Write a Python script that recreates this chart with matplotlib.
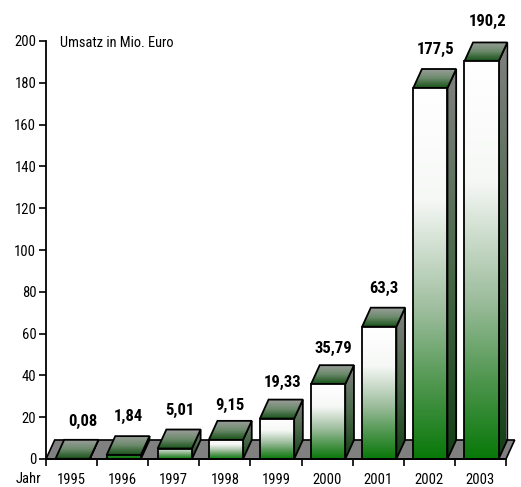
import numpy as np
import matplotlib
matplotlib.use("Agg")
import matplotlib.pyplot as plt
from matplotlib.colors import LinearSegmentedColormap
from matplotlib.patches import Polygon

years = ["1995", "1996", "1997", "1998", "1999", "2000", "2001", "2002", "2003"]
umsatz = [0.08, 1.84, 5.01, 9.15, 19.33, 35.79, 63.3, 177.5, 190.2]
value_labels = ["0,08", "1,84", "5,01", "9,15", "19,33", "35,79", "63,3", "177,5", "190,2"]
y_ticks = list(range(0, 201, 20))
# where the white-to-green fade starts on each bar (short bars are already green)
fade_start = [0.95, 0.9, 0.35, 0.05, 0, 0, 0, 0, 0]
label_x = [0.72, 0.62, 0.62, 0.60, 0.62, 0.62, 0.62, 0.62, 0.64]
label_off = [13.5, 14, 14, 11, 12, 12, 14, 14, 15]

plt.rcParams["font.family"] = ["Roboto Condensed", "Liberation Sans"]

W, H = 521, 487
BAR_L, BAR_R = 0.185, 0.855
DX, DY = 0.17, 9.1

front_cmap = LinearSegmentedColormap.from_list(
    "front", [(0, "#ffffff"), (0.3, "#f6f8f6"), (0.6, "#9dbd9d"), (0.8, "#4f964f"), (1, "#087808")])
side_cmap = LinearSegmentedColormap.from_list("side", ["#808080", "#4a6a4a", "#143f14"])
top_cmap = LinearSegmentedColormap.from_list("top", ["#a0a0a0", "#6c8a6c", "#155015"])
grad = np.linspace(0, 1, 256).reshape(-1, 1)


def shaded_poly(ax, pts, cmap, extent, zorder, start=0.0):
    # gradient image clipped to the polygon, then black edge on top
    poly = Polygon(pts, closed=True, facecolor="none", edgecolor="black",
                   linewidth=1.3, zorder=zorder + 0.1, clip_on=False)
    ax.add_patch(poly)
    im = ax.imshow(start + (1 - start) * grad, cmap=cmap, extent=extent,
                   aspect="auto", zorder=zorder, vmin=0, vmax=1)
    im.set_clip_path(poly)


fig = plt.figure(figsize=(W / 100, H / 100), dpi=100)
ax = fig.add_axes([46 / W, 1 - 459 / H, 460 / W, 418 / H])

# floor
floor = Polygon([(0, 0), (9, 0), (9 + DX, DY), (DX, DY)], closed=True,
                facecolor="#808080", edgecolor="black", linewidth=1.2,
                zorder=1, clip_on=False)
ax.add_patch(floor)

for i, val in enumerate(umsatz):
    l, r = i + BAR_L, i + BAR_R
    z = 2 + i
    # side
    shaded_poly(ax, [(r, 0), (r + DX, DY), (r + DX, val + DY), (r, val)],
                side_cmap, (r, r + DX, 0, val + DY), z)
    # top
    shaded_poly(ax, [(l, val), (r, val), (r + DX, val + DY), (l + DX, val + DY)],
                top_cmap, (l, r + DX, val, val + DY), z + 0.2)
    # front
    shaded_poly(ax, [(l, 0), (r, 0), (r, val), (l, val)],
                front_cmap, (l, r, 0, val), z + 0.4, start=fade_start[i])
    ax.annotate(value_labels[i], (i + label_x[i], val + DY), xytext=(0, label_off[i]),
                textcoords="offset points", ha="center", va="center",
                fontsize=12, fontweight="bold", color="black",
                annotation_clip=False, zorder=30)

ax.set_xlim(0, 9)
ax.set_ylim(0, 200)

ax.set_yticks(y_ticks)
ax.set_xticks(np.arange(10))
ax.set_xticklabels([])
ax.set_xticks(np.arange(9) + 0.5, labels=years, minor=True)
ax.tick_params(axis="x", which="major", length=5, width=1.2)
ax.tick_params(axis="x", which="minor", length=0, pad=10, labelsize=10.5)
ax.tick_params(axis="y", length=5, width=1.2, labelsize=10.5, pad=2)

for side in ["top", "right"]:
    ax.spines[side].set_visible(False)
for side in ["left", "bottom"]:
    ax.spines[side].set_linewidth(1.3)
    ax.spines[side].set_zorder(40)

ax.patch.set_visible(False)
fig.text(60 / W, 1 - 43 / H, "Umsatz in Mio. Euro", fontsize=10.4, ha="left", va="center")
fig.text(28 / W, 1 - 479 / H, "Jahr", fontsize=10.5, ha="center", va="center")

fig.savefig("out.png", dpi=100)
